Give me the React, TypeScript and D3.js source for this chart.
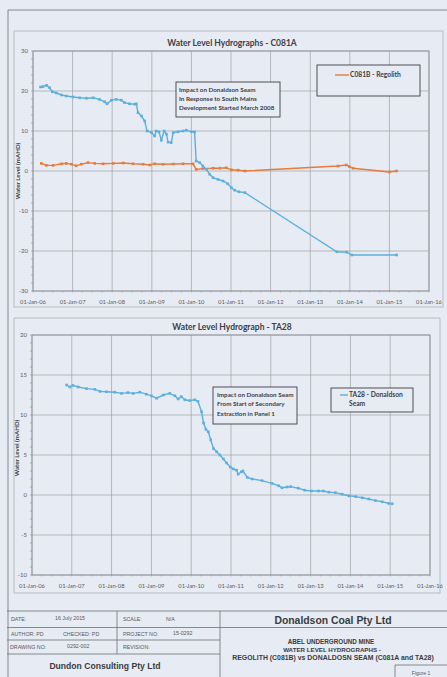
import React, { useRef, useEffect } from 'react';
import * as d3 from 'd3';

// decimal years
const C081A_DATES = [2006.19, 2006.25, 2006.34, 2006.42, 2006.49, 2006.59, 2006.72, 2006.84, 2007.01, 2007.18, 2007.35, 2007.52, 2007.68, 2007.81, 2007.87, 2007.98, 2008.10, 2008.23, 2008.31, 2008.44, 2008.57, 2008.61, 2008.65, 2008.74, 2008.82, 2008.88, 2008.99, 2009.07, 2009.11, 2009.18, 2009.24, 2009.31, 2009.37, 2009.41, 2009.49, 2009.54, 2009.66, 2009.79, 2009.87, 2010.00, 2010.08, 2010.12, 2010.21, 2010.29, 2010.38, 2010.46, 2010.55, 2010.67, 2010.80, 2010.92, 2011.01, 2011.09, 2011.20, 2011.35, 2013.67, 2013.92, 2014.05, 2015.18];
const C081A_LEVELS = [21.0, 21.1, 21.4, 20.8, 19.8, 19.5, 19.0, 18.75, 18.5, 18.3, 18.2, 18.3, 17.9, 17.3, 16.8, 17.7, 17.9, 17.7, 17.1, 16.8, 16.7, 16.8, 14.6, 13.75, 12.5, 10.0, 9.6, 8.75, 10.0, 9.8, 7.7, 10.0, 9.2, 7.2, 7.1, 9.6, 9.8, 10.0, 10.2, 9.8, 9.75, 2.5, 2.1, 1.25, 0.4, -0.8, -1.7, -2.1, -2.5, -3.2, -4.2, -4.8, -5.2, -5.4, -20.2, -20.3, -21.0, -21.0];

const C081B_DATES = [2006.21, 2006.34, 2006.51, 2006.72, 2006.84, 2006.97, 2007.09, 2007.22, 2007.39, 2007.56, 2007.77, 2008.03, 2008.28, 2008.53, 2008.78, 2008.95, 2009.07, 2009.28, 2009.54, 2009.79, 2010.04, 2010.12, 2010.29, 2010.55, 2010.72, 2010.88, 2011.01, 2011.18, 2011.35, 2013.70, 2013.91, 2013.99, 2014.08, 2015.00, 2015.18];
const C081B_LEVELS = [1.9, 1.4, 1.4, 1.8, 1.9, 1.7, 1.3, 1.7, 2.1, 1.9, 1.8, 1.9, 2.0, 1.8, 1.7, 1.5, 1.8, 1.7, 1.75, 1.8, 1.8, 0.4, 0.6, 0.7, 0.7, 0.8, 0.3, 0.2, 0.0, 1.25, 1.5, 1.1, 0.7, -0.25, 0.0];

const TA28_DATES = [2006.87, 2006.95, 2007.03, 2007.16, 2007.37, 2007.58, 2007.71, 2007.87, 2008.08, 2008.25, 2008.41, 2008.54, 2008.71, 2008.87, 2009.00, 2009.13, 2009.30, 2009.46, 2009.59, 2009.67, 2009.75, 2009.84, 2009.96, 2010.09, 2010.17, 2010.26, 2010.31, 2010.37, 2010.43, 2010.49, 2010.56, 2010.64, 2010.72, 2010.81, 2010.89, 2010.98, 2011.06, 2011.14, 2011.18, 2011.26, 2011.30, 2011.41, 2011.53, 2011.78, 2012.03, 2012.20, 2012.28, 2012.41, 2012.50, 2012.69, 2012.85, 2013.02, 2013.20, 2013.32, 2013.46, 2013.62, 2013.79, 2013.96, 2014.13, 2014.30, 2014.46, 2014.63, 2014.80, 2014.96, 2015.05];
const TA28_LEVELS = [13.75, 13.5, 13.7, 13.5, 13.3, 13.2, 12.95, 12.9, 12.85, 12.7, 12.8, 12.7, 12.85, 12.6, 12.4, 12.1, 12.5, 12.7, 12.4, 12.0, 12.3, 11.9, 11.8, 11.9, 11.7, 10.4, 9.0, 8.2, 7.9, 6.9, 5.8, 5.4, 5.0, 4.5, 4.0, 3.5, 3.25, 3.1, 2.6, 2.9, 3.0, 2.2, 2.0, 1.8, 1.45, 1.15, 0.9, 1.0, 1.05, 0.85, 0.6, 0.5, 0.5, 0.5, 0.35, 0.3, 0.1, -0.1, -0.2, -0.35, -0.5, -0.7, -0.85, -1.05, -1.1];

const Y_TICKS_TOP = [-30, -20, -10, 0, 10, 20, 30];
const Y_TICKS_BOTTOM = [-10, -5, 0, 5, 10, 15, 20];

const BLUE = '#5cb0dd';
const ORANGE = '#e77b3c';
const BG = '#e7ebf3';
const GRID = '#9ea2a8';
const TXT = '#5a5c60';
const CHART_FONT = 'Lato, "Open Sans", sans-serif';
const BLOCK_FONT = '"Liberation Sans", Arial, sans-serif';

const toDate = (y: number) => {
  const yr = Math.floor(y);
  const a = new Date(yr, 0, 1).getTime();
  const b = new Date(yr + 1, 0, 1).getTime();
  return new Date(a + (y - yr) * (b - a));
};

type Series = { dates: number[]; levels: number[]; color: string };

interface ChartSpec {
  top: number; bottom: number; left: number; right: number;
  yDomain: [number, number]; yTicks: number[]; minorStep: number;
  title: string; titleY: number; labelY: number;
  series: Series[];
}

function drawChart(svg: d3.Selection<SVGSVGElement, unknown, null, undefined>, c: ChartSpec) {
  const g = svg.append('g');
  const x = d3.scaleTime().domain([new Date(2006, 0, 1), new Date(2016, 0, 1)]).range([c.left, c.right]);
  const y = d3.scaleLinear().domain(c.yDomain).range([c.bottom, c.top]);
  const years = d3.timeYear.range(new Date(2006, 0, 1), new Date(2016, 0, 2));

  // grid
  g.selectAll('line.vg').data(years).join('line')
    .attr('x1', d => x(d)).attr('x2', d => x(d))
    .attr('y1', c.top).attr('y2', c.bottom)
    .attr('stroke', GRID).attr('stroke-width', 0.7);
  g.selectAll('line.hg').data(c.yTicks).join('line')
    .attr('x1', c.left).attr('x2', c.right)
    .attr('y1', d => y(d)).attr('y2', d => y(d))
    .attr('stroke', GRID).attr('stroke-width', 0.7);
  g.append('rect').attr('x', c.left).attr('y', c.top)
    .attr('width', c.right - c.left).attr('height', c.bottom - c.top)
    .attr('fill', 'none').attr('stroke', '#8a8e94').attr('stroke-width', 0.8);

  // minor ticks on the axes
  const minor = d3.range(c.yDomain[0], c.yDomain[1] + 0.001, c.minorStep);
  g.selectAll('line.mt').data(minor).join('line')
    .attr('x1', c.left - 2).attr('x2', c.left)
    .attr('y1', d => y(d)).attr('y2', d => y(d))
    .attr('stroke', '#8a8e94').attr('stroke-width', 0.6);
  const months = d3.timeMonth.every(3)!.range(new Date(2006, 0, 1), new Date(2016, 0, 2));
  g.selectAll('line.xt').data(months).join('line')
    .attr('x1', d => x(d)).attr('x2', d => x(d))
    .attr('y1', c.bottom).attr('y2', c.bottom + 1.5)
    .attr('stroke', '#8a8e94').attr('stroke-width', 0.5);

  // tick labels
  g.selectAll('text.yl').data(c.yTicks).join('text')
    .attr('x', c.left - 5).attr('y', d => y(d) + 2.2)
    .attr('text-anchor', 'end').attr('font-size', 6).attr('fill', TXT)
    .attr('font-family', CHART_FONT)
    .text(d => String(d));
  const fmt = d3.timeFormat('%d-%b-%y');
  g.selectAll('text.xl').data(years).join('text')
    .attr('x', d => x(d)).attr('y', c.bottom + 12.5)
    .attr('text-anchor', 'middle').attr('font-size', 5.8).attr('fill', TXT)
    .attr('font-family', CHART_FONT)
    .text(d => fmt(d));

  g.append('text').attr('x', 232).attr('y', c.titleY)
    .attr('text-anchor', 'middle').attr('font-size', 8.5).attr('font-weight', 'bold')
    .attr('fill', '#3e4044').attr('font-family', CHART_FONT).text(c.title);
  g.append('text')
    .attr('transform', `translate(${c.left - 13},${c.labelY}) rotate(-90)`)
    .attr('text-anchor', 'middle').attr('font-size', 6.2).attr('font-weight', 'bold')
    .attr('fill', '#3e4044').attr('font-family', CHART_FONT).text('Water Level (mAHD)');

  c.series.forEach(s => {
    const pts = s.dates.map((d, i) => [toDate(d), s.levels[i]] as [Date, number]);
    const line = d3.line<[Date, number]>().x(d => x(d[0])).y(d => y(d[1]));
    g.append('path').datum(pts).attr('d', line)
      .attr('fill', 'none').attr('stroke', s.color).attr('stroke-width', 1.4);
    g.selectAll(null).data(pts).join('rect')
      .attr('x', d => x(d[0]) - 1.3).attr('y', d => y(d[1]) - 1.3)
      .attr('width', 2.6).attr('height', 2.6).attr('fill', s.color);
  });

  return { x, y };
}

function textBox(svg: d3.Selection<SVGSVGElement, unknown, null, undefined>,
  x0: number, y0: number, w: number, h: number, lines: string[], lineH: number, tx: number) {
  svg.append('rect').attr('x', x0).attr('y', y0).attr('width', w).attr('height', h)
    .attr('fill', BG).attr('stroke', '#3c3e42').attr('stroke-width', 0.9);
  lines.forEach((t, i) => {
    svg.append('text').attr('x', tx).attr('y', y0 + 9.5 + i * lineH)
      .attr('font-size', 6.3).attr('font-weight', 'bold').attr('fill', '#3e4044')
      .attr('font-family', CHART_FONT).text(t);
  });
}

export default function App() {
  const svgRef = useRef<SVGSVGElement>(null);

  useEffect(() => {
    if (!svgRef.current) return;
    const svg = d3.select(svgRef.current);
    svg.selectAll('*').remove();

    svg.append('rect').attr('width', 447).attr('height', 677).attr('fill', BG);

    // page and chart frames
    svg.append('line').attr('x1', 8).attr('x2', 447).attr('y1', 10).attr('y2', 10)
      .attr('stroke', '#6d7075').attr('stroke-width', 0.8);
    svg.append('line').attr('x1', 8).attr('x2', 8).attr('y1', 10).attr('y2', 677)
      .attr('stroke', '#6d7075').attr('stroke-width', 0.8);
    svg.append('rect').attr('x', 14).attr('y', 31).attr('width', 429).attr('height', 276)
      .attr('fill', 'none').attr('stroke', '#a4a8ae').attr('stroke-width', 0.7);
    svg.append('rect').attr('x', 14).attr('y', 318).attr('width', 426).attr('height', 275)
      .attr('fill', 'none').attr('stroke', '#a4a8ae').attr('stroke-width', 0.7);

    drawChart(svg, {
      top: 51, bottom: 291, left: 33, right: 429,
      yDomain: [-30, 30], yTicks: Y_TICKS_TOP, minorStep: 2,
      title: 'Water Level Hydrographs - C081A', titleY: 46, labelY: 171,
      series: [
        { dates: C081B_DATES, levels: C081B_LEVELS, color: ORANGE },
        { dates: C081A_DATES, levels: C081A_LEVELS, color: BLUE },
      ],
    });
    drawChart(svg, {
      top: 335, bottom: 575, left: 32, right: 430,
      yDomain: [-10, 20], yTicks: Y_TICKS_BOTTOM, minorStep: 1,
      title: 'Water Level Hydrograph - TA28', titleY: 330, labelY: 448,
      series: [{ dates: TA28_DATES, levels: TA28_LEVELS, color: BLUE }],
    });

    // legends
    svg.append('rect').attr('x', 317).attr('y', 65).attr('width', 103).attr('height', 31)
      .attr('fill', BG).attr('stroke', '#3c3e42').attr('stroke-width', 0.9);
    svg.append('line').attr('x1', 335).attr('x2', 349).attr('y1', 75).attr('y2', 75)
      .attr('stroke', ORANGE).attr('stroke-width', 1.4);
    svg.append('text').attr('x', 350).attr('y', 77.3).attr('font-size', 6.7).attr('font-weight', 'bold')
      .attr('fill', '#3e4044').attr('font-family', CHART_FONT).text('C081B - Regolith');

    svg.append('rect').attr('x', 331).attr('y', 388).attr('width', 82).attr('height', 24)
      .attr('fill', BG).attr('stroke', '#3c3e42').attr('stroke-width', 0.9);
    svg.append('line').attr('x1', 340).attr('x2', 348).attr('y1', 395).attr('y2', 395)
      .attr('stroke', BLUE).attr('stroke-width', 1.4);
    svg.append('text').attr('x', 349).attr('y', 397.3).attr('font-size', 6.7).attr('font-weight', 'bold')
      .attr('fill', '#3e4044').attr('font-family', CHART_FONT).text('TA28 - Donaldson');
    svg.append('text').attr('x', 349).attr('y', 406).attr('font-size', 6.7).attr('font-weight', 'bold')
      .attr('fill', '#3e4044').attr('font-family', CHART_FONT).text('Seam');

    // annotations
    textBox(svg, 176, 82, 104, 35,
      ['Impact on Donaldson Seam', 'In Response to South Mains', 'Development Started March 2008'], 9, 179);
    textBox(svg, 213, 387, 84, 37,
      ['Impact on Donaldson Seam', 'From Start of Secondary', 'Extraction in Panel 1'], 9.5, 217);

    // title block
    const tb = svg.append('g').attr('stroke', '#6d7075').attr('stroke-width', 0.8);
    tb.append('line').attr('x1', 7).attr('x2', 447).attr('y1', 611).attr('y2', 611);
    tb.append('line').attr('x1', 7).attr('x2', 447).attr('y1', 627.5).attr('y2', 627.5);
    tb.append('line').attr('x1', 7).attr('x2', 220).attr('y1', 640).attr('y2', 640);
    tb.append('line').attr('x1', 7).attr('x2', 220).attr('y1', 654).attr('y2', 654);
    tb.append('line').attr('x1', 117).attr('x2', 117).attr('y1', 611).attr('y2', 654);
    tb.append('line').attr('x1', 220).attr('x2', 220).attr('y1', 611).attr('y2', 677);
    tb.append('line').attr('x1', 395).attr('x2', 395).attr('y1', 665).attr('y2', 677);
    tb.append('line').attr('x1', 395).attr('x2', 447).attr('y1', 665).attr('y2', 665);

    const small = (x: number, y: number, t: string) =>
      svg.append('text').attr('x', x).attr('y', y).attr('font-size', 5.3)
        .attr('fill', '#55585d').attr('font-family', BLOCK_FONT).text(t);
    small(11, 621, 'DATE:');
    small(55, 620, '16 July 2015');
    small(123, 621, 'SCALE:');
    small(166, 621, 'N/A');
    small(11, 636, 'AUTHOR: PD');
    small(63, 636, 'CHECKED: PD');
    small(123, 636, 'PROJECT NO:');
    small(173, 635, '15-0292');
    small(10, 649, 'DRAWING NO:');
    small(67, 648, '0292-002');
    small(123, 649, 'REVISION:');

    const bold = (x: number, y: number, size: number, t: string) =>
      svg.append('text').attr('x', x).attr('y', y).attr('font-size', size).attr('font-weight', 'bold')
        .attr('text-anchor', 'middle').attr('fill', '#3a3c40').attr('font-family', BLOCK_FONT).text(t);
    bold(105, 669, 8.6, 'Dundon Consulting Pty Ltd');
    bold(333, 623.5, 10.4, 'Donaldson Coal Pty Ltd');
    bold(331, 643.5, 6.3, 'ABEL UNDERGROUND MINE');
    bold(332, 652, 6.2, 'WATER LEVEL HYDROGRAPHS -');
    bold(333, 660, 6.9, 'REGOLITH (C081B) vs DONALDOSN SEAM (C081A and TA28)');
    svg.append('text').attr('x', 421).attr('y', 675).attr('font-size', 5).attr('text-anchor', 'middle')
      .attr('fill', '#55585d').attr('font-family', BLOCK_FONT).text('Figure 1');
  }, []);

  return (
    <svg ref={svgRef} width={447} height={677}
      style={{ position: 'absolute', left: 0, top: 0, display: 'block' }} />
  );
}
